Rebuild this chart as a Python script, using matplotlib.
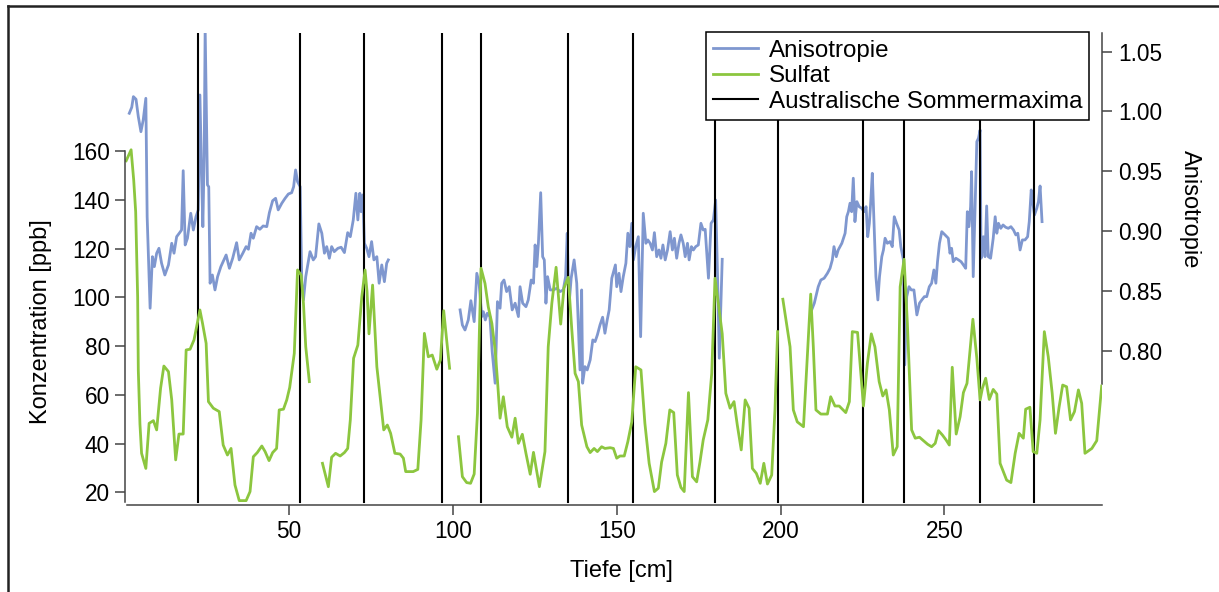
import numpy as np
import matplotlib
matplotlib.use('Agg')
import matplotlib.pyplot as plt
from matplotlib.lines import Line2D

plt.rcParams['font.family'] = ['Liberation Sans', 'DejaVu Sans']

# Sulfat [ppb], four measured sections of the core (depth in cm)
sulfat_depth_1 = [0.3, 1.8, 2.6, 3.2, 3.8, 4.0, 4.5, 5.0, 6.3, 7.3, 8.6, 9.6, 10.8, 11.8, 13.2,
                  14.2, 15.4, 16.4, 17.7, 18.6, 19.8, 21.0, 22.8, 23.6, 24.7, 25.4, 26.9, 28.7,
                  29.9, 31.2, 32.3, 33.5, 34.8, 36.9, 38.1, 39.1, 40.3, 41.7, 42.7, 43.9, 45.0,
                  46.2, 47.0, 48.3, 49.3, 50.2, 51.6, 52.6, 53.7, 54.4, 55.1, 56.2]
sulfat_ppb_1 = [156, 160.5, 148, 135, 100, 70, 48, 36, 29.8, 48.3, 49.4, 45.6, 62.7, 71.8, 69.5,
                57.9, 33.3, 43.9, 43.9, 78.4, 78.7, 82.5, 94.8, 89.3, 81.1, 57.2, 54.5, 53.1,
                39.4, 35.3, 38, 23, 16.6, 16.6, 20.3, 34.6, 36.3, 39, 36.7, 33, 36.3,
                38, 53.8, 54.1, 57.9, 63, 77, 111.2, 109.1, 97.5, 79.7, 65.4]

sulfat_depth_2 = [60.2, 62.0, 63.0, 64.2, 65.6, 66.9, 67.9, 68.7, 69.7, 71.0, 72.2, 73.2, 73.8,
                  74.4, 75.5, 76.8, 77.8, 78.9, 80.0, 81.0, 82.3, 83.9, 84.9, 85.6, 87.9, 89.3,
                  90.3, 91.3, 92.5, 93.7, 95.1, 96.2, 97.2, 98.1, 99.0]
sulfat_ppb_2 = [31.9, 22.3, 34.4, 36, 34.9, 36.3, 38, 49.7, 75, 80.4, 100.2, 111.2, 102.3,
                85, 105, 71.5, 59.2, 45.6, 47.6, 44.2, 36, 35.7, 34, 28.5, 28.5, 29.4,
                49.7, 85.2, 75.6, 76.3, 70.5, 74.3, 94.5, 82.5, 70.9]

sulfat_depth_3 = [101.7, 102.9, 104.2, 105.4, 106.5, 107.5, 108.1, 108.6, 109.8, 110.8, 111.9,
                  112.9, 113.6, 114.4, 115.4, 116.6, 118.0, 119.0, 120.0, 121.2, 122.3, 123.6,
                  124.6, 126.4, 128.1, 129.1, 130.2, 131.5, 132.9, 133.9, 135.2, 136.3, 137.3,
                  138.3, 139.3, 140.9, 141.9, 143.1, 144.1, 145.4, 146.4, 148.0, 149.0, 150.0,
                  151.0, 152.3, 153.4, 154.6, 155.8, 157.4, 158.6, 159.9, 161.5, 162.7, 163.7,
                  165.0, 166.2, 167.4, 168.5, 169.6, 170.6, 171.9, 173.1, 174.4, 175.4, 176.4,
                  177.8, 179.0, 180.0, 181.2, 182.2, 183.3, 184.6, 185.8, 186.8, 188.0, 189.2,
                  190.4, 191.4, 192.6, 193.8, 194.9, 196.0, 197.3, 198.3, 199.1]
sulfat_ppb_3 = [42.8, 26.4, 24, 23.7, 27.5, 52.4, 86.6, 111.9, 105.7, 96.1, 89.3,
                78.4, 66.1, 50.4, 59.2, 46.9, 42.6, 50.4, 40.1, 43.8, 36, 27.4,
                36.4, 22.3, 36.7, 79.7, 97.5, 112.3, 89, 103.7, 108.2, 86.6, 68.8,
                65.4, 47.6, 38.7, 36.3, 38, 36.7, 38.7, 38, 38.3, 38, 34,
                34.9, 34.9, 40.8, 48.9, 71.5, 70.2, 48.3, 31.9, 20.3, 21.7, 32.4,
                40.1, 53.8, 52.7, 27.1, 22, 20.3, 60.9, 26.4, 24.3, 32.4, 41.5,
                49.7, 68.8, 107.8, 95.5, 85, 60.6, 54.5, 57.2, 47.6, 37.4, 57.9,
                54.5, 29.8, 27.8, 23.7, 31.9, 23.4, 27.1, 53.8, 85.9]

sulfat_depth_4 = [200.7, 202.9, 203.9, 205.1, 207.0, 208.0, 209.2, 210.0, 210.8, 212.3, 214.3,
                  215.3, 216.6, 217.9, 219.9, 221.0, 221.9, 223.5, 225.3, 226.5, 227.7, 228.8,
                  230.1, 231.2, 232.2, 233.2, 234.4, 235.6, 236.5, 237.7, 238.7, 240.0, 241.1,
                  242.4, 243.6, 244.9, 246.1, 247.2, 248.2, 249.4, 250.5, 251.5, 252.4, 253.6,
                  254.8, 255.8, 256.9, 258.7, 259.9, 260.9, 261.6, 262.6, 263.7, 264.9, 266.0,
                  267.0, 269.0, 270.3, 271.6, 272.8, 274.1, 274.8, 276.1, 277.1, 278.2, 279.2,
                  280.5, 281.7, 282.9, 283.9, 285.0, 286.1, 287.3, 288.5, 289.7, 290.9, 291.9,
                  292.9, 295.0, 296.5, 298.0]
sulfat_ppb_4 = [99.2, 79.7, 53.8, 48.9, 46.9, 71.5, 101.3, 79.7, 53.8, 52.1, 52.1,
                59.2, 55.4, 55.4, 52.7, 57.2, 85.9, 85.6, 55.4, 72.9, 85, 79.7,
                65.4, 59.5, 62, 53.8, 35.3, 38.7, 104.3, 115.6, 89.3, 45.6, 42.2,
                42.6, 41.2, 39.7, 38.7, 40.1, 45.3, 43.5, 41.5, 39.4, 71.3, 43.9,
                51, 60.9, 64.7, 91, 75, 57.9, 62.7, 66.8, 58.1, 62.2, 60.3,
                31.9, 25, 24, 36, 44.2, 42.2, 54.1, 54.9, 36.7, 36, 49.7,
                85.9, 75.6, 60.6, 44.2, 54.9, 64, 63.3, 49.7, 53.1, 62, 56.5,
                36, 38, 41.2, 63.6]

# Anisotropie, three sections
aniso_depth_1 = [1.25, 2.0, 2.5, 3.3, 4.0, 4.8, 5.5, 6.3, 6.7, 7.6, 8.3, 8.9, 9.6, 10.3, 11.1,
                 12.1, 13.2, 14.2, 14.9, 15.7, 16.5, 17.2, 17.7, 18.3, 19.0, 20.0, 20.8, 21.6,
                 22.3, 22.8, 23.4, 23.7, 24.1, 24.4, 25.1, 25.5, 25.9, 26.6, 27.4, 28.2, 29.2,
                 30.8, 31.8, 32.8, 34.0, 34.8, 35.9, 36.9, 37.6, 38.4, 39.1, 40.1, 41.1, 42.1,
                 43.2, 44.0, 45.0, 45.9, 46.7, 47.8, 48.8, 49.8, 50.8, 51.4, 52.0, 52.6, 53.4,
                 53.9, 54.4, 55.1, 56.4, 57.4, 58.1, 59.1, 60.0, 60.8, 61.5, 62.3, 63.0, 63.8,
                 64.9, 65.9, 66.9, 67.9, 68.7, 69.6, 70.4, 71.0, 71.6, 72.0, 72.5, 73.0, 73.7,
                 74.4, 75.2, 75.9, 76.8, 77.5, 78.3, 79.1, 79.8, 80.3]
aniso_1 = [0.9985, 1.0035, 1.0124, 1.0102, 0.9957, 0.9831, 0.9929, 1.011, 0.912, 0.8355, 0.8786,
           0.8703, 0.8815, 0.8856, 0.8731, 0.8633, 0.8717, 0.8898, 0.8815, 0.8953, 0.8982,
           0.9009, 0.9505, 0.8884, 0.894, 0.9149, 0.9009, 0.912, 0.9177, 1.0138, 0.9371,
           0.9037, 0.9622, 1.07, 0.9386, 0.937, 0.8564, 0.8633, 0.8508, 0.8619, 0.8703,
           0.88, 0.8689, 0.8773, 0.8903, 0.8759, 0.8815, 0.887, 0.8848, 0.8982, 0.894,
           0.9037, 0.9015, 0.9043, 0.9037, 0.9154, 0.9254, 0.9274, 0.9177, 0.9233, 0.9274,
           0.931, 0.9321, 0.9371, 0.9511, 0.9413, 0.9371, 0.8564, 0.8424, 0.8619, 0.8828,
           0.8759, 0.8786, 0.906, 0.8982, 0.8815, 0.887, 0.8773, 0.887, 0.8828, 0.8856,
           0.8865, 0.882, 0.8987, 0.8953, 0.9093, 0.9316, 0.9093, 0.9316, 0.9162, 0.9302,
           0.8898, 0.8856, 0.8786, 0.8912, 0.8759, 0.8786, 0.8564, 0.8717, 0.8577, 0.8731,
           0.8759]

aniso_depth_2 = [102.2, 102.9, 103.7, 104.7, 105.5, 106.5, 107.3, 108.0, 108.8, 109.3, 109.9,
                 110.5, 111.3, 112.0, 112.9, 113.6, 114.4, 114.9, 115.6, 116.4, 117.2, 118.1,
                 119.0, 120.0, 120.5, 121.3, 122.3, 123.0, 123.9, 124.6, 125.1, 125.6, 126.1,
                 126.8, 127.4, 127.9, 128.4, 128.9, 129.7, 130.7, 131.7, 132.7, 133.7, 134.4,
                 134.9, 135.4, 136.1, 137.0, 137.8, 138.8, 139.3, 139.6, 140.3, 141.0, 141.9,
                 142.7, 143.4, 144.1, 144.9, 145.7, 146.4, 147.1, 147.7, 148.5, 149.6, 150.0,
                 150.7, 151.3, 152.0, 152.8, 153.4, 154.0, 154.6, 155.1, 155.8, 156.6, 157.3,
                 158.1, 158.9, 159.5, 160.2, 160.9, 161.5, 162.2, 162.9, 163.5, 164.1, 164.8,
                 165.5, 166.3, 167.0, 167.6, 168.3, 169.0, 169.6, 170.3, 170.9, 171.6, 172.1,
                 172.8, 173.4, 174.1, 174.9, 175.7, 176.4, 177.0, 178.0, 178.8, 179.5, 180.2,
                 180.8, 181.3, 181.8, 182.2]
aniso_2 = [0.8341, 0.8215, 0.8173, 0.8257, 0.8418, 0.8243, 0.8647, 0.8564, 0.8285, 0.8326, 0.8257,
           0.8313, 0.8285, 0.7992, 0.7728, 0.841, 0.8355, 0.8564, 0.8591, 0.8494, 0.8535, 0.8341,
           0.8397, 0.8285, 0.8535, 0.8397, 0.8368, 0.8424, 0.8591, 0.8564, 0.8884, 0.8703, 0.8898,
           0.9321, 0.8786, 0.8759, 0.8397, 0.8619, 0.8508, 0.8508, 0.8522, 0.8494, 0.8508, 0.8619,
           0.8982, 0.8368, 0.8606, 0.8759, 0.8564, 0.7839, 0.8508, 0.7728, 0.7867, 0.7839, 0.7923,
           0.809, 0.8076, 0.8132, 0.8215, 0.828, 0.8146, 0.8257, 0.8341, 0.8606, 0.8717, 0.8535,
           0.8647, 0.8494, 0.8619, 0.8731, 0.8982, 0.887, 0.9065, 0.8759, 0.887, 0.8953, 0.8117,
           0.9149, 0.8898, 0.8926, 0.8898, 0.8842, 0.8987, 0.8786, 0.8842, 0.8773, 0.8884, 0.8759,
           0.8842, 0.8995, 0.8842, 0.894, 0.8773, 0.8898, 0.8968, 0.8898, 0.8786, 0.8898, 0.8759,
           0.887, 0.8842, 0.887, 0.8884, 0.9065, 0.9009, 0.9015, 0.8606, 0.9065, 0.9093, 0.926,
           0.8591, 0.7937, 0.8397, 0.8764]

aniso_depth_3 = [209.5, 210.3, 211.5, 212.3, 213.3, 214.3, 215.1, 215.8, 216.3, 217.0, 217.6,
                 218.7, 219.7, 220.2, 220.7, 221.2, 221.7, 222.2, 222.7, 223.3, 224.0, 224.8,
                 225.5, 226.1, 226.6, 227.1, 227.5, 228.0, 228.6, 229.1, 229.7, 230.2, 230.9,
                 231.4, 231.9, 232.6, 233.4, 234.1, 234.7, 235.4, 236.2, 236.7, 237.5, 237.9,
                 238.5, 239.2, 239.9, 240.7, 241.6, 242.4, 243.1, 243.9, 244.6, 245.4, 246.1,
                 246.8, 247.4, 247.9, 248.5, 249.2, 250.2, 251.2, 251.7, 252.2, 252.7, 253.5,
                 254.3, 255.1, 255.8, 256.5, 257.0, 257.5, 258.0, 258.3, 258.8, 259.4, 259.9,
                 260.4, 260.9, 261.2, 261.9, 262.4, 262.9, 263.4, 264.1, 264.9, 265.5, 266.0,
                 266.5, 267.2, 267.9, 268.7, 269.5, 270.3, 271.1, 271.8, 272.4, 273.1, 273.8,
                 274.6, 275.4, 275.9, 276.5, 277.0, 277.5, 278.2, 278.7, 279.2, 279.8]
aniso_3 = [0.8341, 0.8397, 0.8535, 0.8591, 0.8606, 0.8647, 0.8689, 0.8759, 0.887, 0.8786, 0.8842,
           0.8898, 0.8982, 0.912, 0.9162, 0.9233, 0.9162, 0.9442, 0.9079, 0.9246, 0.9204, 0.919,
           0.9162, 0.9204, 0.8953, 0.9065, 0.9233, 0.9483, 0.9009, 0.8619, 0.8424, 0.8619, 0.8786,
           0.8842, 0.894, 0.8898, 0.8912, 0.887, 0.912, 0.9065, 0.9009, 0.887, 0.8759, 0.7881,
           0.8452, 0.8535, 0.8508, 0.8508, 0.8299, 0.8397, 0.8424, 0.8452, 0.8452, 0.8535, 0.8564,
           0.8675, 0.8564, 0.8744, 0.8898, 0.8995, 0.8968, 0.894, 0.8815, 0.8856, 0.8744, 0.8773,
           0.8759, 0.8744, 0.8717, 0.8689, 0.9162, 0.9037, 0.9204, 0.9497, 0.8619, 0.9233, 0.9748,
           0.9776, 0.9845, 0.8773, 0.8953, 0.8786, 0.921, 0.8786, 0.8773, 0.894, 0.912, 0.8982,
           0.9065, 0.9023, 0.9051, 0.9032, 0.9023, 0.9037, 0.9009, 0.8968, 0.8982, 0.8842, 0.8926,
           0.8926, 0.8953, 0.9079, 0.9344, 0.9233, 0.9135, 0.9191, 0.9246, 0.9377, 0.9079]

# Australische Sommermaxima (depth in cm)
summer_maxima = [22.3, 53.4, 73.0, 96.6, 108.6, 135.1, 155.1, 180.1, 199.1,
                 225.1, 237.8, 261.0, 277.3]

x_ticks = [50, 100, 150, 200, 250]
conc_ticks = [20, 40, 60, 80, 100, 120, 140, 160]
aniso_ticks = [0.80, 0.85, 0.90, 0.95, 1.00, 1.05]

blue = '#7f97cf'
green = '#8cc63f'
axis_grey = '#444444'
W, H = 1219, 592

fig = plt.figure(figsize=(W / 100, H / 100), dpi=100)
ax = fig.add_axes([125.2 / W, 1 - 505 / H, (1102 - 125.2) / W, (505 - 33) / H])
ax2 = ax.twinx()

# green + black lines on top of the blue curve
ax.set_zorder(ax2.get_zorder() + 1)
ax.patch.set_visible(False)

for d, a in [(aniso_depth_1, aniso_1), (aniso_depth_2, aniso_2), (aniso_depth_3, aniso_3)]:
    ax2.plot(d, a, color=blue, lw=2.0, solid_joinstyle='round')

for d in summer_maxima:
    ax.axvline(d, ymin=0.007, ymax=1, color='black', lw=1.5, zorder=1)

for d, s in [(sulfat_depth_1, sulfat_ppb_1), (sulfat_depth_2, sulfat_ppb_2),
             (sulfat_depth_3, sulfat_ppb_3), (sulfat_depth_4, sulfat_ppb_4)]:
    ax.plot(d, s, color=green, lw=2.0, solid_joinstyle='round', zorder=2)

ax.set_xlim(0, 298.1)
ax.set_ylim(14.8, 208.4)
ax2.set_ylim(0.6710, 1.0656)

ax.set_xticks(x_ticks)
ax.set_yticks(conc_ticks)
ax2.set_yticks(aniso_ticks)
ax2.set_yticklabels(['%.2f' % t for t in aniso_ticks])

for s in ['top', 'right']:
    ax.spines[s].set_visible(False)
for s in ['top', 'left', 'bottom']:
    ax2.spines[s].set_visible(False)
ax.spines['left'].set_bounds(16.2, 160)
ax.spines['bottom'].set_bounds(0.5, 298.1)
ax2.spines['right'].set_bounds(0.7724, 1.0656)
for sp in [ax.spines['left'], ax.spines['bottom'], ax2.spines['right']]:
    sp.set_color(axis_grey)
    sp.set_linewidth(1.1)

ax.tick_params(axis='both', direction='out', length=7, width=1.1, color=axis_grey,
               labelsize=16.3, pad=4)
ax2.tick_params(axis='y', direction='out', length=7.5, width=1.1, color=axis_grey,
                labelsize=16.3, pad=4)

fig.text(41 / W, 1 - 321.5 / H, 'Konzentration [ppb]', rotation=90, ha='center',
         va='center', fontsize=17)
fig.text(1190 / W, 1 - 209 / H, 'Anisotropie', rotation=-90, ha='center',
         va='center', fontsize=17)
fig.text(621 / W, 1 - 571 / H, 'Tiefe [cm]', ha='center', va='center', fontsize=17)

handles = [Line2D([], [], color=blue, lw=2.0),
           Line2D([], [], color=green, lw=2.0),
           Line2D([], [], color='black', lw=1.5)]
leg = ax.legend(handles, ['Anisotropie', 'Sulfat', 'Australische Sommermaxima'],
                loc='upper right', bbox_to_anchor=(1089.3 / W, 1 - 32.3 / H),
                bbox_transform=fig.transFigure, borderaxespad=0, fontsize=17.4,
                frameon=True, fancybox=False, framealpha=1, edgecolor='black',
                handlelength=1.85, handletextpad=0.45, labelspacing=0.15, borderpad=0.3)
leg.get_frame().set_linewidth(1.1)
leg.set_zorder(10)

# frame around the figure (cut off at right and bottom)
fig.add_artist(Line2D([8 / W, 8 / W], [0, 1 - 6 / H], transform=fig.transFigure,
                      color='#222222', lw=1.8))
fig.add_artist(Line2D([8 / W, 1], [1 - 6 / H, 1 - 6 / H], transform=fig.transFigure,
                      color='#222222', lw=1.8))

fig.savefig('out.png', dpi=100)
